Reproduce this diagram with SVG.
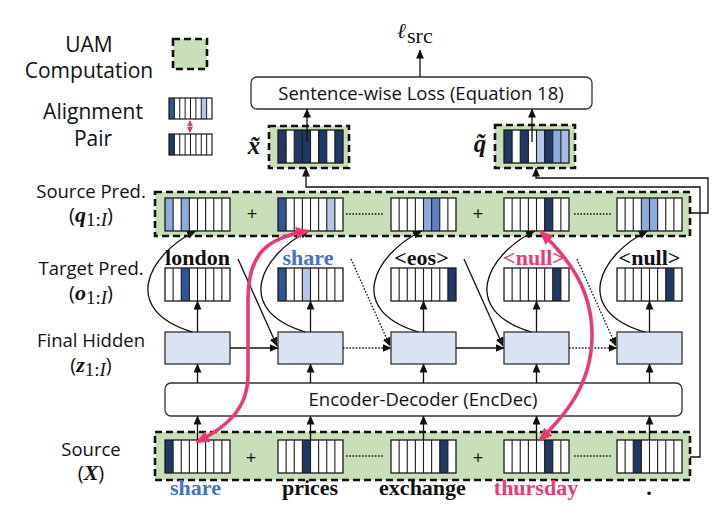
<svg xmlns="http://www.w3.org/2000/svg" xmlns:xlink="http://www.w3.org/1999/xlink" width="720" height="527" viewBox="0 0 720 527">
<style>
.lab{font-family:"Open Sans","Liberation Sans",sans-serif;font-size:18.5px;fill:#111}
.par{font-family:"Open Sans","Liberation Sans",sans-serif;font-size:20px;fill:#111}
.leg{font-family:"Open Sans","Liberation Sans",sans-serif;font-size:21px;fill:#111}
.bw{font-family:"Liberation Serif","Times New Roman",serif;font-weight:bold;font-size:22px;fill:#111}
.mi{font-family:"Liberation Serif","DejaVu Serif",serif;font-style:italic;font-weight:bold}
.sr{font-family:"Liberation Serif","DejaVu Serif",serif}
.blue{fill:#4472c4}
.pink{fill:#ea3a72}
.uam{fill:#c9dfba;stroke:#111;stroke-width:2.6;stroke-dasharray:7 4}
.box{fill:#fff;stroke:#333;stroke-width:1.3}
.hid{fill:#dae3f3;stroke:#333;stroke-width:1.3}
.vbg{fill:#fff}
.N{fill:#203864}.M{fill:#2f5597}.L{fill:#8faadc}.LL{fill:#b4c7e7}.L2{fill:#a6bce4}.M2{fill:#5f80c2}
.ln{fill:none;stroke:#111;stroke-width:1.3}
.dot{fill:none;stroke:#111;stroke-width:1.3;stroke-dasharray:1.6 1.6}
.pk{fill:none;stroke:#ea3a72;stroke-width:3.6}
</style>
<defs>
<marker id="ah" markerUnits="userSpaceOnUse" markerWidth="9" markerHeight="8" refX="8.5" refY="4" orient="auto"><path d="M0,0 L9,4 L0,8 z" fill="#111"/></marker>
<marker id="pa" markerUnits="userSpaceOnUse" markerWidth="14" markerHeight="12" refX="12" refY="6" orient="auto-start-reverse"><path d="M0,0 L14,6 L0,12 z" fill="#ea3a72"/></marker>
<marker id="ps" markerUnits="userSpaceOnUse" markerWidth="6" markerHeight="6" refX="5" refY="3" orient="auto-start-reverse"><path d="M0,0 L6,3 L0,6 z" fill="#ea3a72"/></marker>
<g id="grid"><rect width="65" height="33" fill="none" stroke="#1a1a1a" stroke-width="1.3"/><path d="M8.125,0V33M16.25,0V33M24.375,0V33M32.5,0V33M40.625,0V33M48.75,0V33M56.875,0V33" stroke="#1a1a1a" stroke-width="1.1"/></g>
<g id="lgrid"><rect width="43" height="21" fill="none" stroke="#1a1a1a" stroke-width="1.2"/><path d="M5.375,0V21M10.75,0V21M16.125,0V21M21.5,0V21M26.875,0V21M32.25,0V21M37.625,0V21" stroke="#1a1a1a" stroke-width="1"/></g>
</defs>

<g id="legend">
<text class="leg" x="89" y="52" text-anchor="middle">UAM</text>
<text class="leg" x="89" y="78" text-anchor="middle">Computation</text>
<rect class="uam" x="173" y="39" width="34" height="30"/>
<text class="leg" x="93" y="119" text-anchor="middle">Alignment</text>
<text class="leg" x="93" y="146" text-anchor="middle">Pair</text>
<g transform="translate(169,98)"><rect class="vbg" width="43" height="21"/><rect class="M" width="5.375" height="21"/><rect class="LL" x="32.25" width="5.375" height="21"/><use xlink:href="#lgrid"/></g>
<g transform="translate(169,134)"><rect class="vbg" width="43" height="21"/><rect class="N" width="5.375" height="21"/><use xlink:href="#lgrid"/></g>
<path d="M190,121 V132" stroke="#ea3a72" stroke-width="1.4" marker-start="url(#ps)" marker-end="url(#ps)"/>
</g>

<g id="row-labels">
<text class="lab" x="91" y="198" text-anchor="middle">Source Pred.</text>
<text class="par" x="91" y="222" text-anchor="middle">(<tspan class="mi" font-size="22">q</tspan><tspan class="sr" font-size="19" dy="4">1:</tspan><tspan class="sr" font-size="19" font-style="italic">I</tspan><tspan dy="-4">)</tspan></text>
<text class="lab" x="91" y="275" text-anchor="middle">Target Pred.</text>
<text class="par" x="91" y="300" text-anchor="middle">(<tspan class="mi" font-size="22">o</tspan><tspan class="sr" font-size="19" dy="4">1:</tspan><tspan class="sr" font-size="19" font-style="italic">I</tspan><tspan dy="-4">)</tspan></text>
<text class="lab" x="91" y="347" text-anchor="middle">Final Hidden</text>
<text class="par" x="91" y="372" text-anchor="middle">(<tspan class="mi" font-size="22">z</tspan><tspan class="sr" font-size="19" dy="4">1:</tspan><tspan class="sr" font-size="19" font-style="italic">I</tspan><tspan dy="-4">)</tspan></text>
<text class="lab" x="91" y="456" text-anchor="middle">Source</text>
<text class="par" x="91" y="480" text-anchor="middle">(<tspan class="mi" font-size="22">X</tspan>)</text>
</g>

<g id="loss-node">
<rect class="box" x="251" y="77" width="341" height="32" rx="6"/>
<text class="lab" x="421" y="100" text-anchor="middle">Sentence-wise Loss (Equation 18)</text>
</g>
<g id="loss-output">
<text class="sr" x="397" y="38" font-size="21" font-style="italic" fill="#111">ℓ</text>
<text class="sr" x="407" y="43" font-size="22" fill="#111">src</text>
</g>

<g id="x-tilde">
<rect class="uam" x="269" y="126" width="80" height="42"/>
<g transform="translate(278,130)"><rect class="vbg" width="65" height="33"/><rect class="N" x="0" width="8.125" height="33"/><rect class="N" x="16.25" width="8.125" height="33"/><rect class="N" x="24.375" width="8.125" height="33"/><rect class="N" x="40.625" width="8.125" height="33"/><rect class="N" x="56.875" width="8.125" height="33"/><use xlink:href="#grid"/></g>
<text class="mi" x="254" y="154" font-size="25" text-anchor="middle" fill="#111">x̃</text>
</g>
<g id="q-tilde">
<rect class="uam" x="495" y="125" width="80" height="43"/>
<g transform="translate(504,130)"><rect class="vbg" width="65" height="33"/><rect class="N" x="0" width="8.125" height="33"/><rect class="N" x="16.25" width="8.125" height="33"/><rect class="LL" x="32.5" width="8.125" height="33"/><rect class="N" x="40.625" width="8.125" height="33"/><rect class="L" x="48.75" width="8.125" height="33"/><rect class="L2" x="56.875" width="8.125" height="33"/><use xlink:href="#grid"/></g>
<text class="mi" x="480" y="152" font-size="25" text-anchor="middle" fill="#111">q̃</text>
</g>

<g id="source-pred">
<rect class="uam" x="155" y="192" width="535" height="44"/>
<g transform="translate(165,198)"><rect class="vbg" width="65" height="33"/><rect class="L" x="0" width="8.125" height="33"/><rect class="L" x="16.25" width="8.125" height="33"/><use xlink:href="#grid"/></g>
<g transform="translate(278,198)"><rect class="vbg" width="65" height="33"/><rect class="M" x="0" width="8.125" height="33"/><rect class="LL" x="48.75" width="8.125" height="33"/><use xlink:href="#grid"/></g>
<g transform="translate(391,198)"><rect class="vbg" width="65" height="33"/><rect class="L" x="32.5" width="8.125" height="33"/><rect class="M2" x="40.625" width="8.125" height="33"/><use xlink:href="#grid"/></g>
<g transform="translate(504,198)"><rect class="vbg" width="65" height="33"/><rect class="N" x="40.625" width="8.125" height="33"/><use xlink:href="#grid"/></g>
<g transform="translate(617,198)"><rect class="vbg" width="65" height="33"/><rect class="L" x="24.375" width="8.125" height="33"/><rect class="L" x="32.5" width="8.125" height="33"/><use xlink:href="#grid"/></g>
<text class="lab" x="252" y="220" text-anchor="middle">+</text>
<text class="lab" x="478" y="220" text-anchor="middle">+</text>
<path class="dot" d="M346,214 H383 M574,214 H612"/>
</g>

<g id="target-pred">
<g transform="translate(165,268)"><rect class="vbg" width="65" height="33"/><rect class="M" x="16.25" width="8.125" height="33"/><use xlink:href="#grid"/></g>
<g transform="translate(278,268)"><rect class="vbg" width="65" height="33"/><rect class="M" x="0" width="8.125" height="33"/><rect class="LL" x="24.375" width="8.125" height="33"/><use xlink:href="#grid"/></g>
<g transform="translate(391,268)"><rect class="vbg" width="65" height="33"/><rect class="N" x="56.875" width="8.125" height="33"/><use xlink:href="#grid"/></g>
<g transform="translate(504,268)"><rect class="vbg" width="65" height="33"/><rect class="N" x="48.75" width="8.125" height="33"/><use xlink:href="#grid"/></g>
<g transform="translate(617,268)"><rect class="vbg" width="65" height="33"/><rect class="N" x="48.75" width="8.125" height="33"/><use xlink:href="#grid"/></g>
<text class="bw" x="197.5" y="265" text-anchor="middle">london</text>
<text class="bw blue" x="308" y="265" text-anchor="middle">share</text>
<text class="bw" x="421.5" y="265" text-anchor="middle">&lt;eos&gt;</text>
<text class="bw pink" x="534" y="265" text-anchor="middle">&lt;null&gt;</text>
<text class="bw" x="649.5" y="265" text-anchor="middle">&lt;null&gt;</text>
</g>

<g id="hidden">
<rect class="hid" x="165" y="332" width="65" height="32"/>
<rect class="hid" x="278" y="332" width="65" height="32"/>
<rect class="hid" x="391" y="332" width="65" height="32"/>
<rect class="hid" x="504" y="332" width="65" height="32"/>
<rect class="hid" x="617" y="332" width="65" height="32"/>
</g>

<g id="encdec">
<rect class="box" x="165" y="383" width="517" height="33" rx="6"/>
<text class="lab" x="423" y="406" text-anchor="middle">Encoder-Decoder (EncDec)</text>
</g>

<g id="source">
<rect class="uam" x="155" y="432" width="535" height="48"/>
<g transform="translate(165,440)"><rect class="vbg" width="65" height="33"/><rect class="N" x="0" width="8.125" height="33"/><use xlink:href="#grid"/></g>
<g transform="translate(278,440)"><rect class="vbg" width="65" height="33"/><rect class="N" x="24.375" width="8.125" height="33"/><use xlink:href="#grid"/></g>
<g transform="translate(391,440)"><rect class="vbg" width="65" height="33"/><rect class="N" x="48.75" width="8.125" height="33"/><use xlink:href="#grid"/></g>
<g transform="translate(504,440)"><rect class="vbg" width="65" height="33"/><rect class="N" x="40.625" width="8.125" height="33"/><use xlink:href="#grid"/></g>
<g transform="translate(617,440)"><rect class="vbg" width="65" height="33"/><rect class="N" x="16.25" width="8.125" height="33"/><use xlink:href="#grid"/></g>
<text class="lab" x="251" y="464" text-anchor="middle">+</text>
<text class="lab" x="478" y="464" text-anchor="middle">+</text>
<path class="dot" d="M346,456 H383 M574,456 H612"/>
<text class="bw blue" x="195.5" y="495" text-anchor="middle">share</text>
<text class="bw" x="310" y="495" text-anchor="middle">prices</text>
<text class="bw" x="422.5" y="495" text-anchor="middle">exchange</text>
<text class="bw pink" x="536" y="495" text-anchor="middle">thursday</text>
<text class="bw" x="649" y="495" text-anchor="middle">.</text>
</g>

<g id="connectors">
<path class="ln" marker-end="url(#ah)" d="M420,77 V50"/>
<path class="ln" marker-end="url(#ah)" d="M307,142 V109"/>
<path class="ln" marker-end="url(#ah)" d="M532,142 V109"/>
<path class="ln" marker-end="url(#ah)" d="M690,457 H700 V187 H306 V168"/>
<path class="ln" marker-end="url(#ah)" d="M690,213 H708 V178 H536 V168"/>
<path class="ln" marker-end="url(#ah)" d="M197.5,440 V416"/>
<path class="ln" marker-end="url(#ah)" d="M197.5,383 V364"/>
<path class="ln" marker-end="url(#ah)" d="M197.5,332 V301"/>
<path class="ln" marker-end="url(#ah)" d="M310.5,440 V416"/>
<path class="ln" marker-end="url(#ah)" d="M310.5,383 V364"/>
<path class="ln" marker-end="url(#ah)" d="M310.5,332 V301"/>
<path class="ln" marker-end="url(#ah)" d="M423.5,440 V416"/>
<path class="ln" marker-end="url(#ah)" d="M423.5,383 V364"/>
<path class="ln" marker-end="url(#ah)" d="M423.5,332 V301"/>
<path class="ln" marker-end="url(#ah)" d="M536.5,440 V416"/>
<path class="ln" marker-end="url(#ah)" d="M536.5,383 V364"/>
<path class="ln" marker-end="url(#ah)" d="M536.5,332 V301"/>
<path class="ln" marker-end="url(#ah)" d="M649.5,440 V416"/>
<path class="ln" marker-end="url(#ah)" d="M649.5,383 V364"/>
<path class="ln" marker-end="url(#ah)" d="M649.5,332 V301"/>
<path class="ln" marker-end="url(#ah)" d="M192.5,332 C119.5,310 147.5,255 195.5,231"/>
<path class="ln" marker-end="url(#ah)" d="M305.5,332 C232.5,310 260.5,255 308.5,231"/>
<path class="ln" marker-end="url(#ah)" d="M418.5,332 C345.5,310 373.5,255 421.5,231"/>
<path class="ln" marker-end="url(#ah)" d="M531.5,332 C458.5,310 486.5,255 534.5,231"/>
<path class="ln" marker-end="url(#ah)" d="M644.5,332 C571.5,310 599.5,255 647.5,231"/>
<path class="ln" marker-end="url(#ah)" d="M238,259 L277,346"/>
<path class="dot" marker-end="url(#ah)" d="M351,259 L390,346"/>
<path class="ln" marker-end="url(#ah)" d="M464,259 L503,346"/>
<path class="dot" marker-end="url(#ah)" d="M577,259 L616,346"/>
<path class="ln" marker-end="url(#ah)" d="M230,348 H278"/>
<path class="dot" marker-end="url(#ah)" d="M343,348 H391"/>
<path class="ln" marker-end="url(#ah)" d="M456,348 H504"/>
<path class="dot" marker-end="url(#ah)" d="M569,348 H617"/>
<path class="pk" marker-start="url(#pa)" marker-end="url(#pa)" d="M308,231 C265,238 248,255 248,300 L248,375 C248,410 225,428 197,442"/>
<path class="pk" marker-start="url(#pa)" marker-end="url(#pa)" d="M541,232 C570,260 592,290 592,335 C592,385 565,415 540,440"/>
</g>
</svg>
